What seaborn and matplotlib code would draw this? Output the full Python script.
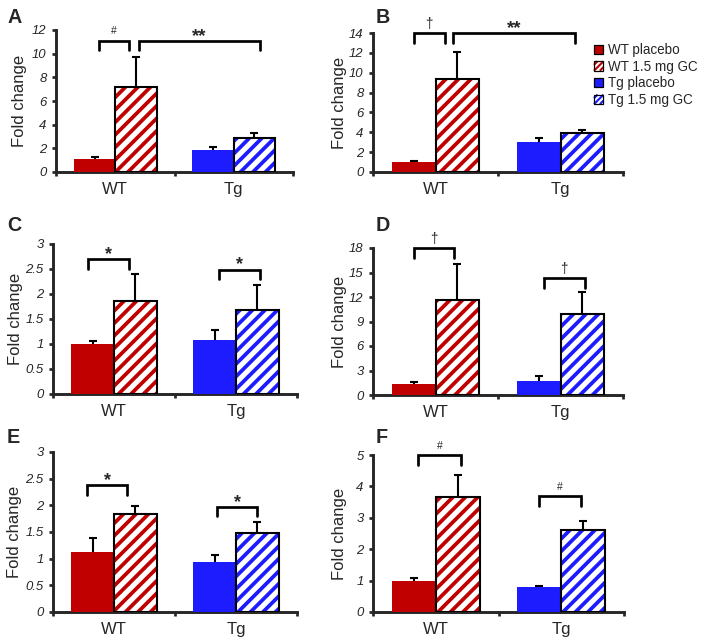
import numpy as np
import pandas as pd
import matplotlib
matplotlib.use("Agg")
import matplotlib.pyplot as plt
from matplotlib.patches import Patch, Rectangle
from matplotlib.lines import Line2D
from matplotlib.legend_handler import HandlerBase
import seaborn as sns

# categories
genotypes = ["WT", "Tg"]
treatments = ["placebo", "1.5 mg GC"]
legend_labels = ["WT placebo", "WT 1.5 mg GC", "Tg placebo", "Tg 1.5 mg GC"]

# bar order in every panel: WT placebo, WT GC, Tg placebo, Tg GC
mean_A = [1.07, 7.16, 1.86, 2.90]
sem_A = [0.22, 2.59, 0.23, 0.42]
mean_B = [0.97, 9.37, 3.05, 3.90]
sem_B = [0.17, 2.73, 0.40, 0.33]
mean_C = [1.00, 1.87, 1.09, 1.68]
sem_C = [0.07, 0.53, 0.19, 0.50]
mean_D = [1.30, 11.6, 1.75, 9.90]
sem_D = [0.33, 4.40, 0.61, 2.75]
mean_E = [1.13, 1.84, 0.94, 1.49]
sem_E = [0.26, 0.15, 0.13, 0.20]
mean_F = [0.99, 3.67, 0.79, 2.61]
sem_F = [0.08, 0.69, 0.04, 0.29]

# significance brackets: (bar i, bar j, height, label)
sig_A = [(0, 1, 11.1, "#"), (1, 3, 11.1, "**")]
sig_B = [(0, 1, 14.0, "\u2020"), (1, 3, 14.0, "**")]
sig_C = [(0, 1, 2.70, "*"), (2, 3, 2.49, "*")]
sig_D = [(0, 1, 18.0, "\u2020"), (2, 3, 14.3, "\u2020")]
sig_E = [(0, 1, 2.38, "*"), (2, 3, 1.97, "*")]
sig_F = [(0, 1, 5.0, "#"), (2, 3, 3.69, "#")]

sns.set_style("ticks")
plt.rcParams["font.family"] = ["Liberation Sans", "DejaVu Sans"]
plt.rcParams["hatch.linewidth"] = 1.8

W, H, DPI = 710, 642, 150
fig = plt.figure(figsize=(W / DPI, H / DPI), dpi=DPI)

red, blue = "#c00000", "#1c1cff"
bar_colors = [red, red, blue, blue]
hatched = [False, True, False, True]

# pixel layout: box (left, right, top, bottom), y max, y step, letter pos, ylabel right edge
layout = {
    "A": ((56, 293, 30, 172), 12, 2, (8, 23), 27),
    "B": ((373, 623, 33, 172), 14, 2, (376, 23), 347),
    "C": ((53, 297, 244, 394), 3, 0.5, (7, 231), 23),
    "D": ((373, 623, 248, 395), 18, 3, (376, 231), 347),
    "E": ((53, 297, 452, 612), 3, 0.5, (7, 443), 22),
    "F": ((373, 624, 455, 612), 5, 1, (376, 443), 347),
}
# small x shifts of bracket ends, and text styles per symbol
bracket_dx = {
    "A": [(0.04, -0.06), (0.025, 0.045)],
    "B": [(0.0, -0.10), (-0.035, -0.06)],
    "C": [(-0.04, -0.05), (0.035, 0.02)],
    "D": [(0.0, -0.03), (0.04, 0.02)],
    "E": [(-0.045, -0.07), (0.02, 0.0)],
    "F": [(0.035, 0.025), (0.0, -0.02)],
}
sym_style = {"#": (5, "normal", 3.0), "\u2020": (6.5, "normal", 2.5),
             "*": (8.5, "bold", 0.0), "**": (9, "bold", 0.0)}

panels = {
    "A": (mean_A, sem_A, sig_A), "B": (mean_B, sem_B, sig_B),
    "C": (mean_C, sem_C, sig_C), "D": (mean_D, sem_D, sig_D),
    "E": (mean_E, sem_E, sig_E), "F": (mean_F, sem_F, sig_F),
}

for key, (means, sems, sigs) in panels.items():
    (left, right, top, bottom), ymax, ystep, (lx, ly), lab_x = layout[key]
    ax = fig.add_axes([left / W, 1 - bottom / H, (right - left) / W, (bottom - top) / H])
    df = pd.DataFrame({
        "genotype": np.repeat(genotypes, 2),
        "treatment": treatments * 2,
        "value": means,
    })
    sns.barplot(data=df, x="genotype", y="value", hue="treatment",
                order=genotypes, hue_order=treatments, errorbar=None,
                width=0.7, legend=False, ax=ax, zorder=3)
    c0, c1 = ax.containers[0], ax.containers[1]
    bars = [c0[0], c1[0], c0[1], c1[1]]
    centers = []
    for k, b in enumerate(bars):
        col = bar_colors[k]
        if hatched[k]:
            b.set_facecolor("white")
            b.set_edgecolor(col)
            b.set_hatch("////")
            b.set_linewidth(0)
            ax.add_patch(Rectangle((b.get_x(), 0), b.get_width(), b.get_height(),
                                   fill=False, ec="black", lw=1.0, zorder=4))
        else:
            b.set_facecolor(col)
            b.set_edgecolor(col)
            b.set_linewidth(0)
        centers.append(b.get_x() + b.get_width() / 2)

    # one-sided error bars: lower half hides behind the bars
    ax.errorbar(centers, means, yerr=sems, fmt="none", ecolor="black",
                elinewidth=1.0, capsize=2.0, capthick=1.0, zorder=2)

    ax.set_xlim(-0.5, 1.5)
    ax.set_ylim(0, ymax)
    yt = np.arange(0, ymax + ystep / 2, ystep)
    ax.set_yticks(yt)
    ax.set_yticklabels([f"{v:g}" for v in yt], fontstyle="italic", fontsize=6.3)
    ax.tick_params(axis="y", direction="out", length=2, width=1.3, pad=2.5)
    ax.tick_params(axis="x", which="major", length=0, pad=5, labelsize=8)
    ax.set_xticks([-0.5, 0.5, 1.5], minor=True)
    ax.tick_params(axis="x", which="minor", direction="out", length=2, width=1.3)
    ax.set_xlabel("")
    ax.set_ylabel("Fold change", fontsize=8)
    ax.yaxis.set_label_coords((lab_x - left) / (right - left), 0.5)
    sns.despine(ax=ax)
    for s in ["left", "bottom"]:
        ax.spines[s].set_linewidth(1.4)

    # brackets
    drop = 9.5 / (bottom - top) * ymax
    for (i, j, y, lab), (dl, dr) in zip(sigs, bracket_dx[key]):
        x1, x2 = centers[i] + dl, centers[j] + dr
        ax.plot([x1, x1, x2, x2], [y - drop, y, y, y - drop], color="black",
                lw=1.3, solid_joinstyle="miter", clip_on=False, zorder=5)
        fs, fw, off = sym_style[lab]
        ax.annotate(lab, ((x1 + x2) / 2, y), xytext=(0, off), textcoords="offset points",
                    ha="center", va="baseline", fontsize=fs, fontweight=fw,
                    annotation_clip=False)

    fig.text(lx / W, 1 - ly / H, key, ha="left", va="baseline",
             fontsize=9.5, fontweight="bold")


# legend square with a few diagonal stripes (hatch is too coarse at this size)
class StripedSquare(HandlerBase):
    def create_artists(self, legend, orig, xd, yd, w, h, fontsize, trans):
        col = orig.get_edgecolor()
        x0, y0 = -xd, -yd
        arts = [Rectangle((x0, y0), w, h, fc="white", ec="none", transform=trans)]
        for c in np.array([-0.62, 0.0, 0.62]) * h:
            xa, ya = max(0, -c), max(0, c)
            xb, yb = min(w, h - c), min(h, w + c)
            arts.append(Line2D([x0 + xa, x0 + xb], [y0 + ya, y0 + yb], color=col,
                               lw=1.0, solid_capstyle="butt", transform=trans))
        arts.append(Rectangle((x0, y0), w, h, fc="none", ec="black", lw=0.6,
                              transform=trans))
        return arts


handles, hmap = [], {}
for k in range(4):
    if hatched[k]:
        hp = Patch(facecolor="white", edgecolor=bar_colors[k])
        hmap[hp] = StripedSquare()
        handles.append(hp)
    else:
        handles.append(Patch(facecolor=bar_colors[k], edgecolor="black", lw=0.6))
fig.legend(handles, legend_labels, loc="upper left", handler_map=hmap,
           bbox_to_anchor=(594 / W, 1 - 43 / H), frameon=False, fontsize=6.5,
           handlelength=0.7, handleheight=0.7, handletextpad=0.35,
           labelspacing=0.2, borderpad=0, borderaxespad=0)

fig.savefig("out.png", dpi=DPI)
